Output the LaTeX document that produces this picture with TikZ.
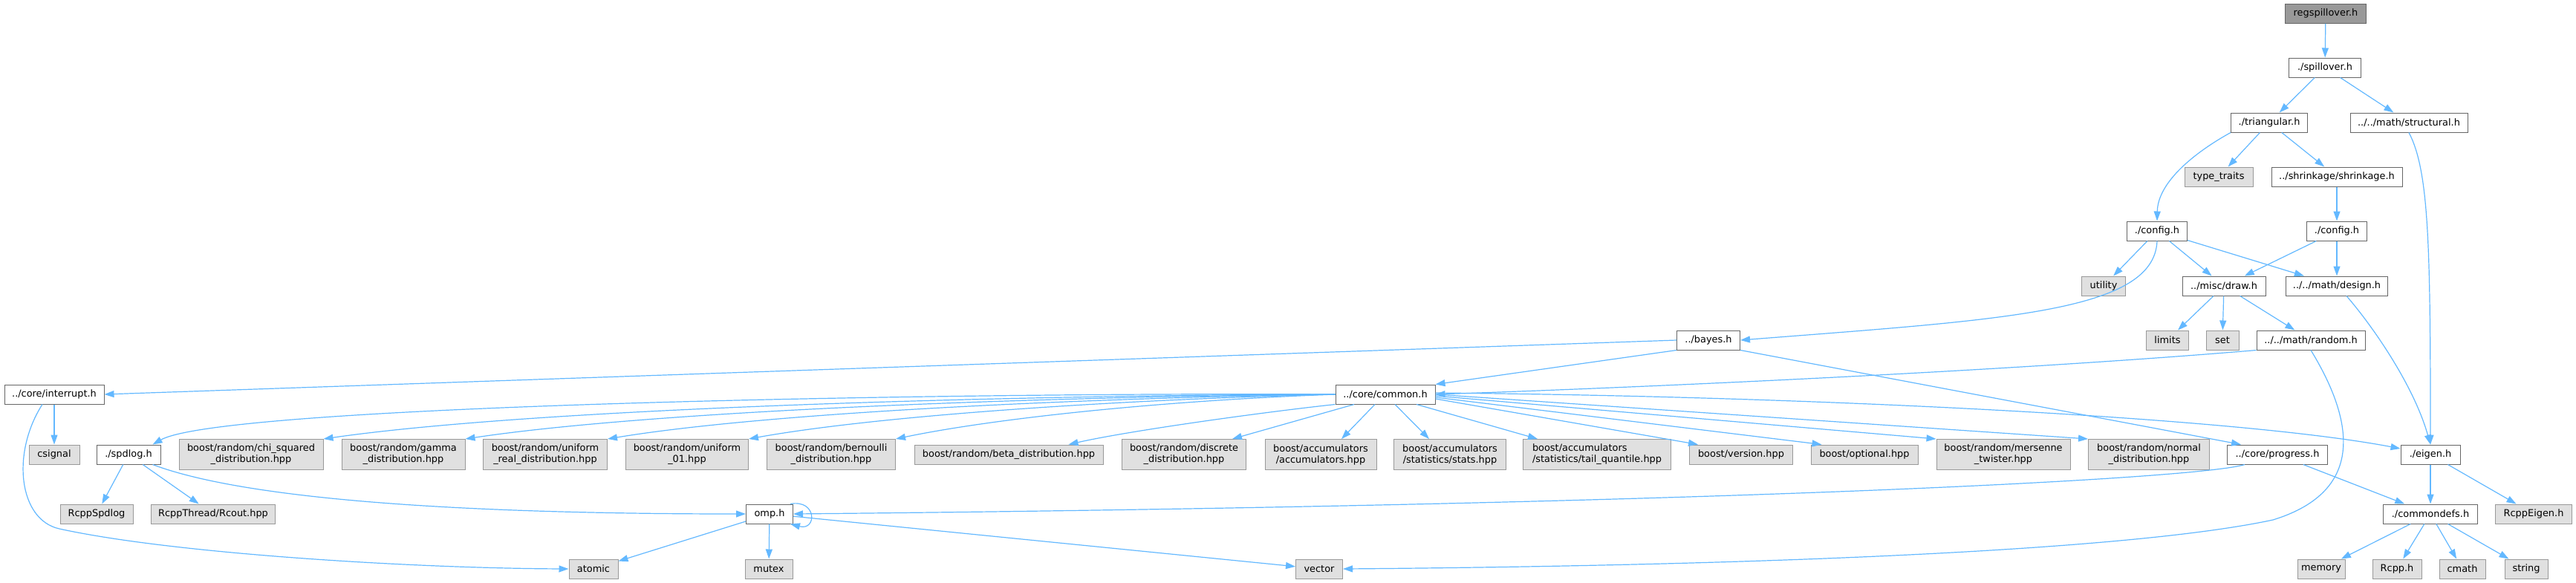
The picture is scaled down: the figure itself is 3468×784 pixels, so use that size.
\documentclass[tikz,border=0pt]{standalone}
\usepackage{fontspec}
\setmainfont{DejaVu Sans}
\usetikzlibrary{arrows.meta}
\definecolor{EdgeBlue}{HTML}{63B8FF}
\definecolor{BoxLine}{HTML}{666666}
\definecolor{ExtLine}{HTML}{999999}
\definecolor{ExtFill}{HTML}{E0E0E0}
\definecolor{RootFill}{HTML}{999999}
\tikzset{
  filebox/.style={draw=BoxLine, line width=0.5pt, fill=white, align=center, minimum height=13pt, inner xsep=2pt, inner ysep=2pt, font=\fontsize{6.45}{7.5}\selectfont},
  extbox/.style={filebox, draw=ExtLine, fill=ExtFill},
  rootbox/.style={filebox, fill=RootFill},
  twoline/.style={minimum height=20.5pt},
  incarrow/.style={-{Triangle[length=6.5pt, width=4.5pt]}, line width=0.6pt, draw=EdgeBlue}
}

\begin{document}
\begin{tikzpicture}[x=0.5pt, y=-0.5pt]
\useasboundingbox (0,0) rectangle (3468,784);
% top of the include tree
\node[rootbox, minimum width=54.5pt] (reg) at (3131,18) {regspillover.h};
\node[filebox, minimum width=48.5pt] (spill) at (3130,91) {./spillover.h};
\node[filebox, minimum width=51.5pt] (tri) at (3055,165) {./triangular.h};
\node[filebox, minimum width=79pt] (struct) at (3243,165) {../../math/structural.h};
\node[extbox, minimum width=46pt] (traits) at (2987,238) {type\_traits};
\node[filebox, minimum width=88pt] (shrink) at (3146,238) {../shrinkage/shrinkage.h};
\node[filebox, minimum width=40.5pt] (cfgA) at (2904,311) {./config.h};
\node[filebox, minimum width=40.5pt] (cfgB) at (3146,311) {./config.h};
\node[extbox, minimum width=29.5pt] (utility) at (2832,385) {utility};
\node[filebox, minimum width=56pt] (drawh) at (2994,385) {../misc/draw.h};
\node[filebox, minimum width=68.5pt] (design) at (3146,385) {../../math/design.h};
\node[filebox, minimum width=42.5pt] (bayes) at (2300,458) {../bayes.h};
\node[extbox, minimum width=28.5pt] (limits) at (2918,458) {limits};
\node[extbox, minimum width=22pt] (seth) at (2992,458) {set};
\node[filebox, minimum width=73pt] (random) at (3111,458) {../../math/random.h};
\node[filebox, minimum width=67pt] (interrupt) at (73,531) {../core/interrupt.h};
\node[filebox, minimum width=67pt] (common) at (1865,531) {../core/common.h};

% row of headers under common.h
\node[extbox, minimum width=34pt] (csignal) at (73,612) {csignal};
\node[filebox, minimum width=43pt] (spdlog) at (173,612) {./spdlog.h};
\node[extbox, twoline, minimum width=97pt] (chi) at (338,612) {boost/random/chi\_squared\\\_distribution.hpp};
\node[extbox, twoline, minimum width=83pt] (gamma) at (543,612) {boost/random/gamma\\\_distribution.hpp};
\node[extbox, twoline, minimum width=83.5pt] (ureal) at (734,612) {boost/random/uniform\\\_real\_distribution.hpp};
\node[extbox, twoline, minimum width=82.5pt] (uzero) at (925,612) {boost/random/uniform\\\_01.hpp};
\node[extbox, twoline, minimum width=86.5pt] (bern) at (1119,612) {boost/random/bernoulli\\\_distribution.hpp};
\node[extbox, minimum width=127pt] (beta) at (1358,612) {boost/random/beta\_distribution.hpp};
\node[extbox, twoline, minimum width=83.5pt] (discrete) at (1594,612) {boost/random/discrete\\\_distribution.hpp};
\node[extbox, twoline, minimum width=75pt] (accum) at (1778,612) {boost/accumulators\\/accumulators.hpp};
\node[extbox, twoline, minimum width=75.5pt] (stats) at (1952,612) {boost/accumulators\\/statistics/stats.hpp};
\node[extbox, twoline, align=left, minimum width=99.5pt] (tail) at (2150,612) {boost/accumulators\\/statistics/tail\_quantile.hpp};
\node[extbox, minimum width=69.5pt] (version) at (2344,612) {boost/version.hpp};
\node[extbox, minimum width=72pt] (optional) at (2510,612) {boost/optional.hpp};
\node[extbox, twoline, minimum width=90pt] (mersenne) at (2697,612) {boost/random/mersenne\\\_twister.hpp};
\node[extbox, twoline, minimum width=81.5pt] (normal) at (2893,612) {boost/random/normal\\\_distribution.hpp};
\node[filebox, minimum width=67.5pt] (progress) at (3066,612) {../core/progress.h};
\node[filebox, minimum width=40pt] (eigen) at (3272,612) {./eigen.h};

% lower rows
\node[extbox, minimum width=49pt] (rcppspd) at (130,692) {RcppSpdlog};
\node[extbox, minimum width=83.5pt] (rcppthr) at (287,692) {RcppThread/Rcout.hpp};
\node[filebox, minimum width=31.5pt] (omp) at (1036,692) {omp.h};
\node[filebox, minimum width=63.5pt] (commondefs) at (3272,692) {./commondefs.h};
\node[extbox, minimum width=51.5pt] (rcppeigen) at (3411,692) {RcppEigen.h};
\node[extbox, minimum width=33pt] (atomic) at (799,766) {atomic};
\node[extbox, minimum width=32pt] (mutex) at (1035,766) {mutex};
\node[extbox, minimum width=31.5pt] (vector) at (1776,766) {vector};
\node[extbox, minimum width=32pt] (memory) at (3125,766) {memory};
\node[extbox, minimum width=33pt] (rcpph) at (3227,766) {Rcpp.h};
\node[extbox, minimum width=31pt] (cmath) at (3315,766) {cmath};
\node[extbox, minimum width=29pt] (stringh) at (3401,766) {string};

% include edges, upper part
\draw[incarrow] (reg) -- (spill);
\draw[incarrow] (spill) -- (tri);
\draw[incarrow] (spill) -- (struct);
\draw[incarrow] (tri) -- (traits);
\draw[incarrow] (tri) -- (shrink);
\draw[incarrow] (tri.south west) .. controls (2955,205) and (2905,245) .. (cfgA.north);
\draw[incarrow] (struct.south) .. controls (3270,230) and (3272,330) .. (eigen.north);
\draw[incarrow] (shrink) -- (cfgB);
\draw[incarrow] (cfgA) -- (utility);
\draw[incarrow] (cfgA) -- (drawh);
\draw[incarrow] (cfgA) -- (design);
\draw[incarrow] (cfgA.south) .. controls (2900,420) and (2700,430) .. (bayes.east);
\draw[incarrow] (cfgB) -- (drawh);
\draw[incarrow] (cfgB) -- (design);
\draw[incarrow] (drawh) -- (limits);
\draw[incarrow] (drawh) -- (seth);
\draw[incarrow] (drawh) -- (random);
\draw[incarrow] ([xshift=6.5pt]design.south) .. controls (3195,440) and (3250,520) .. (eigen.north);
\draw[incarrow] (random.south west) .. controls (2700,500) and (2200,522) .. (common.east);
\draw[incarrow] (random.south) .. controls (3165,560) and (3190,660) .. (3060,700) .. controls (2850,745) and (2300,762) .. (vector.east);
\draw[incarrow] (bayes.west) -- (interrupt.east);
\draw[incarrow] (bayes.south west) -- (common.north east);
\draw[incarrow] (bayes.south east) -- ([xshift=-24.5pt]progress.north);

% common.h fan
\draw[incarrow] (common.west) .. controls (1300,528) and (300,545) .. ([xshift=-5.5pt]spdlog.north east);
\draw[incarrow] (common.west) .. controls (1350,532) and (720,550) .. (chi.north east);
\draw[incarrow] (common.west) .. controls (1400,534) and (880,553) .. (gamma.north east);
\draw[incarrow] (common.west) .. controls (1450,536) and (1030,556) .. (ureal.north east);
\draw[incarrow] (common.west) .. controls (1500,538) and (1180,560) .. (uzero.north east);
\draw[incarrow] (common.west) .. controls (1550,540) and (1330,565) .. (bern.north east);
\draw[incarrow] (common.south west) .. controls (1700,555) and (1520,580) .. ([xshift=-23.5pt]beta.north east);
\draw[incarrow] ([xshift=-21pt]common.south) -- ([xshift=-9.5pt]discrete.north east);
\draw[incarrow] ([xshift=-7pt]common.south) -- ([xshift=14pt]accum.north);
\draw[incarrow] ([xshift=6.5pt]common.south) -- ([xshift=-14pt]stats.north);
\draw[incarrow] ([xshift=21pt]common.south) -- ([xshift=10pt]tail.north west);
\draw[incarrow] ([yshift=-3pt]common.east) -- ([xshift=6pt]version.north west);
\draw[incarrow] ([yshift=-2pt]common.east) -- ([xshift=7.5pt]optional.north west);
\draw[incarrow] ([yshift=-1pt]common.east) -- (mersenne.north west);
\draw[incarrow] (common.east) -- (normal.north west);
\draw[incarrow] ([yshift=1pt]common.east) .. controls (2400,533) and (3000,560) .. ([yshift=4pt]eigen.west);

% lower part
\draw[incarrow] (interrupt) -- (csignal);
\draw[incarrow] ([xshift=-8pt]interrupt.south) .. controls (15,610) and (25,700) .. (80,712) .. controls (230,745) and (550,765) .. (atomic.west);
\draw[incarrow] (spdlog) -- (rcppspd);
\draw[incarrow] (spdlog) -- (rcppthr);
\draw[incarrow] ([xshift=-5.5pt]spdlog.south east) .. controls (350,680) and (700,692) .. (omp.west);
\draw[incarrow] ([xshift=-2pt]omp.north east) .. controls (1100,672) and (1100,715) .. ([xshift=-2pt]omp.south east);
\draw[incarrow] (omp) -- (atomic);
\draw[incarrow] (omp) -- (mutex);
\draw[incarrow] (omp) -- (vector);
\draw[incarrow] ([xshift=-22pt]progress.south) .. controls (2960,645) and (2300,680) .. (omp.east);
\draw[incarrow] (progress) -- (commondefs);
\draw[incarrow] (eigen) -- (commondefs);
\draw[incarrow] (eigen) -- (rcppeigen);
\draw[incarrow] (commondefs) -- (memory);
\draw[incarrow] (commondefs) -- (rcpph);
\draw[incarrow] (commondefs) -- (cmath);
\draw[incarrow] (commondefs) -- (stringh);
\end{tikzpicture}
\end{document}
